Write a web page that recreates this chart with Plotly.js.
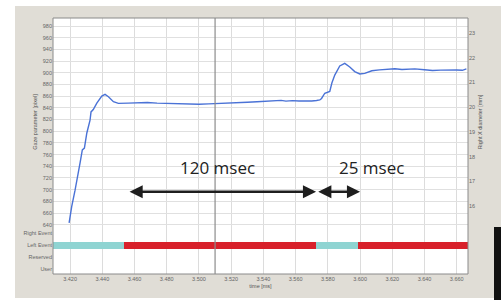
<!DOCTYPE html>
<html>
<head>
<meta charset="utf-8">
<script src="https://cdn.plot.ly/plotly-3.0.1.min.js"></script>
<style>html,body{margin:0;padding:0;background:#fff;}#chart{width:501px;height:300px;}</style>
</head>
<body>
<div id="chart"></div>
<script>
// ---- data ----
const timeMs = [3419.4, 3421, 3423.1, 3424.8, 3426.2, 3427.6, 3428.9, 3430.4, 3431.3, 3432.4, 3433, 3434.4,
  3436.6, 3439.7, 3441.7, 3443.8, 3446.9, 3450, 3456, 3462, 3468, 3474, 3480, 3487, 3494, 3500, 3506,
  3512, 3518, 3524, 3530, 3536, 3542, 3548, 3551, 3554, 3558, 3562, 3566, 3570, 3573, 3575, 3576.1,
  3578.1, 3581.2, 3582.5, 3584.3, 3587.4, 3590.5, 3593.6, 3596.7, 3599.8, 3602.9, 3607.3, 3612,
  3617, 3621.6, 3626, 3632, 3634, 3640, 3645, 3650, 3655, 3660, 3663.5, 3666];
const gazeValue = [643, 671, 699, 722, 746, 768, 771, 797, 808, 819, 833, 837,
  848, 860, 863, 859, 850.5, 847.7, 848, 848.5, 849, 848, 847.5, 846.5, 845.8, 846, 846.8,
  847.3, 847.5, 848.5, 849.5, 850.5, 851, 851.8, 852.8, 851.5, 852.3, 851.7, 851.5, 851.8, 852.5, 853.5, 856,
  865, 868, 882.5, 896, 911.6, 916, 910, 902, 898, 899, 903.5, 905,
  905.3, 906.8, 905.5, 905.4, 906.6, 905.2, 903.8, 904.5, 905, 904.6, 904.2, 906.5];

const eventStart = [3409.4, 3453.5, 3572.6, 3598.6];
const eventEnd   = [3453.5, 3572.6, 3598.6, 3667];
const eventType  = ['Saccade', 'Fixation', 'Saccade', 'Fixation'];
const eventRow   = ['Left Event', 'Left Event', 'Left Event', 'Left Event'];

const rowLabels = ['User', 'Reserved', 'Left Event', 'Right Event'];
const rowValues = [0, 1, 2, 3];

const cursorTime = 3510;
const spanStart = [3456, 3573.1];
const spanEnd   = [3572.7, 3600];
const spanLabel = ['120 msec', '25 msec'];
const spanLabelTime = [3511.6, 3606.8];

// ---- build ----
const typeColor = {Saccade: '#8fd4d2', Fixation: '#d8212b'};
const rowIndex = r => rowValues[rowLabels.indexOf(r)];

const traces = [
  {x: timeMs, y: gazeValue, type: 'scatter', mode: 'lines', xaxis: 'x', yaxis: 'y',
   line: {color: '#4a72d6', width: 1.4}, hoverinfo: 'skip'},
  {x: [3420], y: [20], type: 'scatter', mode: 'none', xaxis: 'x', yaxis: 'y2', hoverinfo: 'skip'},
  {type: 'bar', orientation: 'h', xaxis: 'x', yaxis: 'y3',
   y: eventRow.map(rowIndex),
   base: eventStart,
   x: eventEnd.map((e, i) => e - eventStart[i]),
   width: 0.6,
   marker: {color: eventType.map(t => typeColor[t]), line: {width: 0}},
   hoverinfo: 'skip'}
];

const tickFont = {family: 'Liberation Sans, Arial, sans-serif', size: 5.5, color: '#666'};
const titleFont = {family: 'Liberation Sans, Arial, sans-serif', size: 5.5, color: '#555'};

const px2x = px => (px - 53) / 415;
const py2y = py => (274 - py) / 256;

const shapes = [
  {type: 'rect', xref: 'paper', yref: 'paper', x0: -0.2, x1: px2x(15), y0: -0.2, y1: 1.2, fillcolor: '#ffffff', line: {width: 0}, layer: 'below'},
  {type: 'rect', xref: 'paper', yref: 'paper', x0: -0.2, x1: 1.2, y0: py2y(6), y1: 1.2, fillcolor: '#ffffff', line: {width: 0}, layer: 'below'},
  {type: 'rect', xref: 'paper', yref: 'paper', x0: -0.2, x1: 1.2, y0: -0.2, y1: py2y(298), fillcolor: '#ffffff', line: {width: 0}, layer: 'below'},
  {type: 'rect', xref: 'paper', yref: 'paper', x0: px2x(494), x1: 1.2, y0: -0.2, y1: py2y(227), fillcolor: '#111111', line: {width: 0}, layer: 'below'},
  {type: 'rect', xref: 'paper', yref: 'paper', x0: 0, x1: 1, y0: 0, y1: 1, line: {color: '#8a8a8a', width: 1}, fillcolor: 'rgba(0,0,0,0)'},
  {type: 'line', xref: 'x', yref: 'paper', x0: cursorTime, x1: cursorTime, y0: 0, y1: 1, line: {color: '#8c8c8c', width: 1.2}}
];

const annotations = [];
spanStart.forEach((s, i) => {
  annotations.push({x: spanEnd[i], y: 696.5, ax: s, ay: 696.5, xref: 'x', yref: 'y', axref: 'x', ayref: 'y',
    text: '', showarrow: true, arrowhead: 2, arrowside: 'end+start', arrowsize: 1.05, arrowwidth: 2.5, arrowcolor: '#1e1e1e'});
  annotations.push({x: spanLabelTime[i], y: 737.5, xref: 'x', yref: 'y', text: spanLabel[i], showarrow: false,
    font: {family: 'Open Sans, sans-serif', size: 17, color: '#222'}});
});

const layout = {
  width: 501, height: 300,
  margin: {l: 53, r: 33, t: 18, b: 26, pad: 0},
  paper_bgcolor: '#e0ddd6',
  plot_bgcolor: '#ffffff',
  showlegend: false,
  separators: ',.',
  bargap: 0,
  xaxis: {
    range: [3409.4, 3667], tick0: 3420, dtick: 20, tickformat: ',d', anchor: 'y3',
    showgrid: true, gridcolor: '#dcdcdc', gridwidth: 1, zeroline: false, showline: false, ticks: '',
    tickfont: tickFont, title: {text: 'time [ms]', font: titleFont, standoff: 3}
  },
  yaxis: {
    domain: [0.1875, 1], range: [637.8, 993.7], dtick: 20, tick0: 0, tickformat: 'd',
    showgrid: true, gridcolor: '#e0e0e0', zeroline: false, showline: false, ticks: '',
    tickfont: tickFont, title: {text: 'Gaze parameter [pixel]', font: titleFont, standoff: 4}
  },
  yaxis2: {
    overlaying: 'y', side: 'right', anchor: 'x', range: [15.19, 23.61], dtick: 1,
    showgrid: false, zeroline: false, showline: false, ticks: '',
    tickfont: tickFont, title: {text: 'Right X diameter [mm]', font: titleFont, standoff: 4}
  },
  yaxis3: {
    domain: [0, 0.1875], range: [-0.4, 3.6], tickvals: rowValues, ticktext: rowLabels,
    showgrid: false, zeroline: false, showline: false, ticks: '', tickfont: tickFont
  },
  shapes: shapes,
  annotations: annotations
};

Plotly.newPlot('chart', traces, layout, {staticPlot: true, displayModeBar: false});
</script>
</body>
</html>
